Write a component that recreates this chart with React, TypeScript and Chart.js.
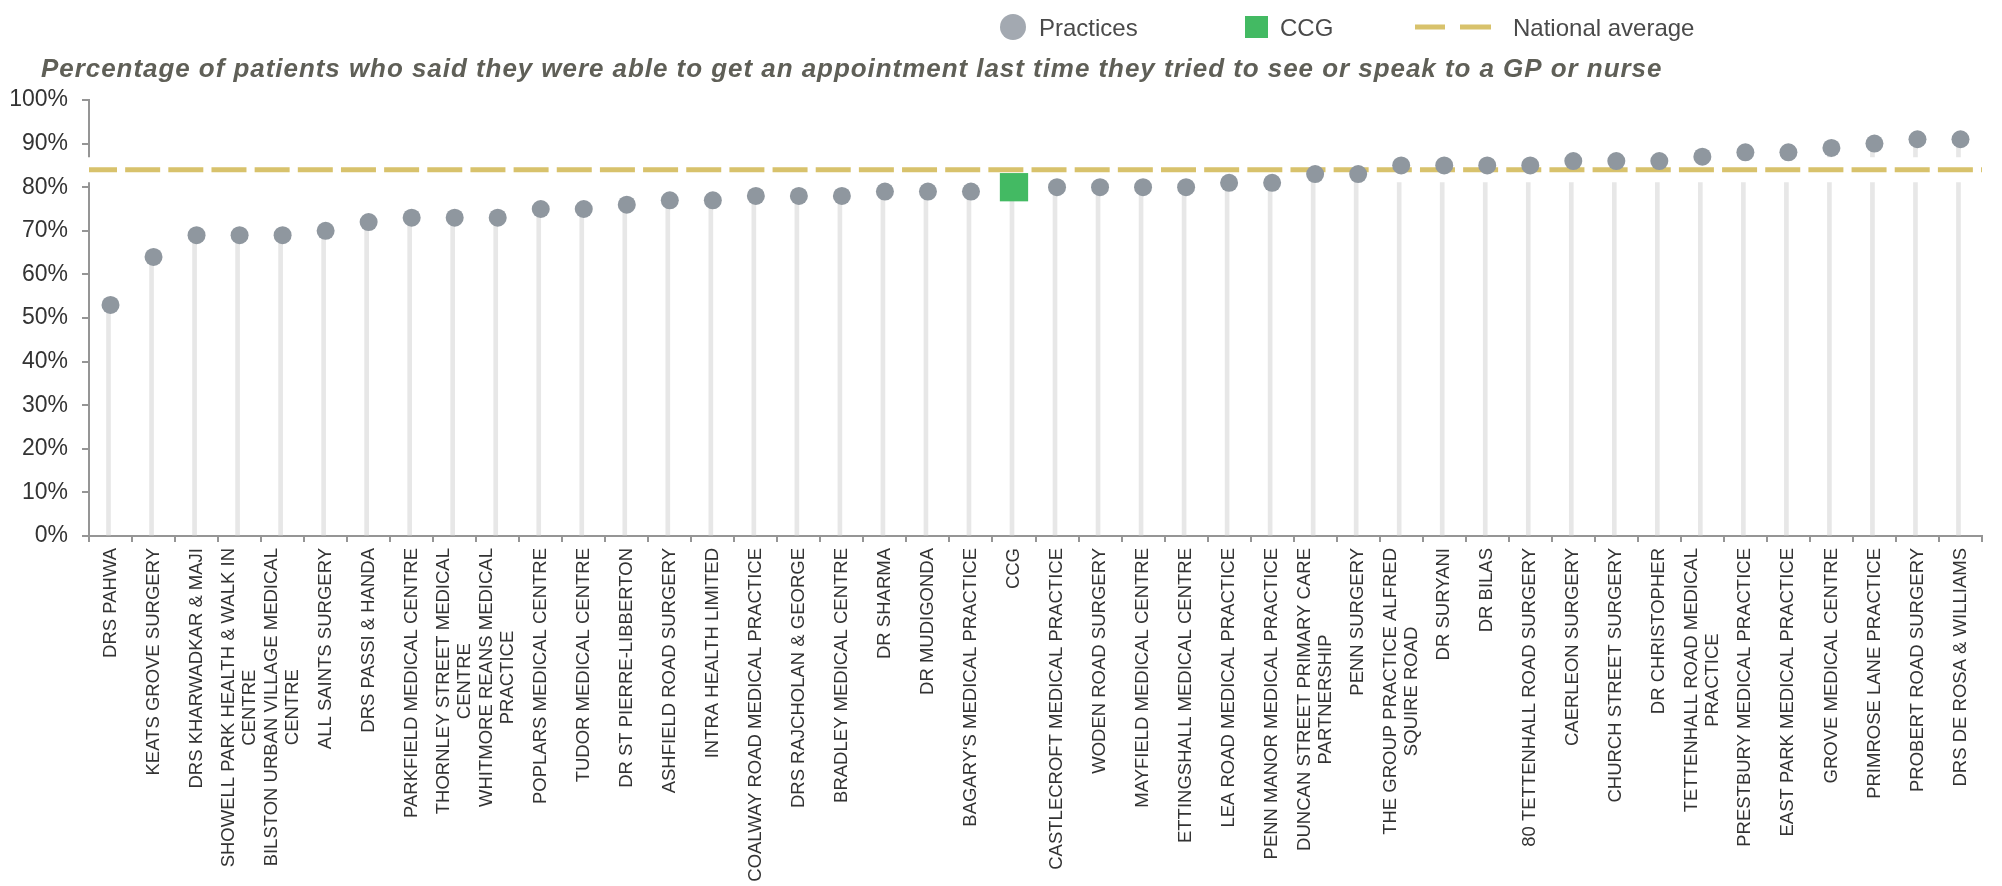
import React, { useEffect, useRef } from 'react';
import { Chart, registerables } from 'chart.js';

Chart.register(...registerables);

const FONT = '"Liberation Sans", Arial, sans-serif';

const titleText =
  'Percentage of patients who said they were able to get an appointment last time they tried to see or speak to a GP or nurse';

const categories: (string | string[])[] = [
  'DRS PAHWA',
  'KEATS GROVE SURGERY',
  'DRS KHARWADKAR & MAJI',
  ['SHOWELL PARK HEALTH & WALK IN', 'CENTRE'],
  ['BILSTON URBAN VILLAGE MEDICAL', 'CENTRE'],
  'ALL SAINTS SURGERY',
  'DRS PASSI & HANDA',
  'PARKFIELD MEDICAL CENTRE',
  ['THORNLEY STREET MEDICAL', 'CENTRE'],
  ['WHITMORE REANS MEDICAL', 'PRACTICE'],
  'POPLARS MEDICAL CENTRE',
  'TUDOR MEDICAL CENTRE',
  'DR ST PIERRE-LIBBERTON',
  'ASHFIELD ROAD SURGERY',
  'INTRA HEALTH LIMITED',
  'COALWAY ROAD MEDICAL PRACTICE',
  'DRS RAJCHOLAN & GEORGE',
  'BRADLEY MEDICAL CENTRE',
  'DR SHARMA',
  'DR MUDIGONDA',
  "BAGARY'S MEDICAL PRACTICE",
  'CCG',
  'CASTLECROFT MEDICAL PRACTICE',
  'WODEN ROAD SURGERY',
  'MAYFIELD MEDICAL CENTRE',
  'ETTINGSHALL MEDICAL CENTRE',
  'LEA ROAD MEDICAL PRACTICE',
  'PENN MANOR MEDICAL PRACTICE',
  ['DUNCAN STREET PRIMARY CARE', 'PARTNERSHIP'],
  'PENN SURGERY',
  ['THE GROUP PRACTICE ALFRED', 'SQUIRE ROAD'],
  'DR SURYANI',
  'DR BILAS',
  '80 TETTENHALL ROAD SURGERY',
  'CAERLEON SURGERY',
  'CHURCH STREET SURGERY',
  'DR CHRISTOPHER',
  ['TETTENHALL ROAD MEDICAL', 'PRACTICE'],
  'PRESTBURY MEDICAL PRACTICE',
  'EAST PARK MEDICAL PRACTICE',
  'GROVE MEDICAL CENTRE',
  'PRIMROSE LANE PRACTICE',
  'PROBERT ROAD SURGERY',
  'DRS DE ROSA & WILLIAMS',
];

const values: number[] = [
  53, 64, 69, 69, 69, 70, 72, 73, 73, 73, 75, 75, 76, 77, 77, 78, 78, 78, 79, 79, 79, 80, 80, 80,
  80, 80, 81, 81, 83, 83, 85, 85, 85, 85, 86, 86, 86, 87, 88, 88, 89, 90, 91, 91,
];

const ccgLabel = 'CCG';
const nationalAverage = 84;
const yTickMin = 0;
const yTickMax = 100;
const yTickStep = 10;

const legendLabels = ['Practices', 'CCG', 'National average'];

const COLOR_POINT = '#8f979f';
const COLOR_LEGEND_POINT = '#a3a9b1';
const COLOR_CCG = '#43ba63';
const COLOR_GOLD = '#d8c26c';
const COLOR_STEM = '#e7e7e7';
const COLOR_AXIS = '#959595';

const isCcg = (c: string | string[]) => (Array.isArray(c) ? c.join(' ') : c) === ccgLabel;

const practiceSeries = values.map((v, i) => (isCcg(categories[i]) ? null : v));
const ccgSeries = values.map((v, i) => (isCcg(categories[i]) ? v : null));

const xLabelPlugin = {
  id: 'xLabelPlugin',
  afterDraw(chart: any) {
    const scale = chart.scales.x;
    const ctx: CanvasRenderingContext2D = chart.ctx;
    const lineH = 21;
    ctx.save();
    ctx.font = `18.5px ${FONT}`;
    ctx.fillStyle = '#333333';
    ctx.textBaseline = 'middle';
    ctx.textAlign = 'center';
    const top = scale.top + 12;
    (chart.data.labels as (string | string[])[]).forEach((lab, i) => {
      const lines = Array.isArray(lab) ? lab : [lab];
      const x = scale.getPixelForTick(i);
      const w = Math.max(...lines.map((l) => ctx.measureText(l).width));
      lines.forEach((line, k) => {
        ctx.save();
        ctx.translate(x + (k - (lines.length - 1) / 2) * lineH, top);
        ctx.rotate(-Math.PI / 2);
        ctx.fillText(line, -w / 2, 0);
        ctx.restore();
      });
    });
    ctx.restore();
  },
};

const titlePlugin = {
  id: 'titlePlugin',
  afterDraw(chart: any) {
    const ctx: any = chart.ctx;
    ctx.save();
    ctx.font = `italic bold 26px ${FONT}`;
    ctx.letterSpacing = '0.95px';
    ctx.fillStyle = '#5f5f57';
    ctx.textBaseline = 'alphabetic';
    ctx.textAlign = 'left';
    ctx.fillText(titleText, 41, 77);
    ctx.restore();
  },
};

const legendPlugin = {
  id: 'legendPlugin',
  afterDraw(chart: any) {
    const ctx: CanvasRenderingContext2D = chart.ctx;
    const cy = 27;
    const base = 36;
    ctx.save();
    ctx.font = `24px ${FONT}`;
    ctx.textBaseline = 'alphabetic';
    ctx.textAlign = 'left';
    // Practices
    ctx.fillStyle = COLOR_LEGEND_POINT;
    ctx.beginPath();
    ctx.arc(1013, cy, 13, 0, Math.PI * 2);
    ctx.fill();
    ctx.fillStyle = '#4a4a4a';
    ctx.fillText(legendLabels[0], 1039, base);
    // CCG
    ctx.fillStyle = COLOR_CCG;
    ctx.fillRect(1245, cy - 11, 23, 22);
    ctx.fillStyle = '#4a4a4a';
    ctx.fillText(legendLabels[1], 1280, base);
    // National average
    ctx.strokeStyle = COLOR_GOLD;
    ctx.lineWidth = 5;
    ctx.beginPath();
    ctx.moveTo(1415, cy);
    ctx.lineTo(1445, cy);
    ctx.moveTo(1460, cy);
    ctx.lineTo(1491, cy);
    ctx.stroke();
    ctx.fillStyle = '#4a4a4a';
    ctx.fillText(legendLabels[2], 1513, base);
    ctx.restore();
  },
};

export default function App() {
  const ref = useRef<HTMLCanvasElement | null>(null);

  useEffect(() => {
    if (!ref.current) return;
    const chart = new Chart(ref.current, {
      type: 'bar',
      data: {
        labels: categories as any,
        datasets: [
          {
            type: 'line',
            label: legendLabels[1],
            data: ccgSeries as any,
            showLine: false,
            pointStyle: 'rect',
            pointRadius: 20,
            pointHoverRadius: 20,
            pointBackgroundColor: COLOR_CCG,
            pointBorderWidth: 0,
            borderColor: COLOR_CCG,
            order: 0,
            xAxisID: 'x',
          },
          {
            type: 'line',
            label: legendLabels[0],
            data: practiceSeries as any,
            showLine: false,
            pointStyle: 'circle',
            pointRadius: 9,
            pointHoverRadius: 9,
            pointBackgroundColor: COLOR_POINT,
            pointBorderWidth: 0,
            borderColor: COLOR_POINT,
            order: 1,
            xAxisID: 'x',
          },
          {
            type: 'line',
            label: legendLabels[2],
            data: [
              { x: 0, y: nationalAverage },
              { x: 1, y: nationalAverage },
            ] as any,
            xAxisID: 'x2',
            borderColor: COLOR_GOLD,
            borderWidth: 5,
            borderDash: [35, 8.16],
            borderDashOffset: 7,
            borderCapStyle: 'butt',
            pointRadius: 0,
            clip: false as any,
            order: 2,
          },
          {
            type: 'line',
            label: 'band',
            data: [
              { x: 0, y: nationalAverage },
              { x: 1, y: nationalAverage },
            ] as any,
            xAxisID: 'x2',
            borderColor: '#ffffff',
            borderWidth: 25,
            borderCapStyle: 'square',
            pointRadius: 0,
            clip: false as any,
            order: 3,
          },
          {
            type: 'bar',
            label: 'stems',
            data: values,
            backgroundColor: COLOR_STEM,
            borderWidth: 0,
            barThickness: 4,
            order: 4,
            xAxisID: 'x',
          },
        ],
      },
      options: {
        animation: false,
        responsive: false,
        maintainAspectRatio: false,
        events: [],
        layout: { padding: { top: 100, left: 0, right: 14, bottom: 0 } },
        plugins: {
          legend: { display: false },
          tooltip: { enabled: false },
          title: { display: false },
        },
        scales: {
          x: {
            type: 'category',
            offset: true,
            grid: {
              display: true,
              offset: true,
              drawOnChartArea: false,
              drawTicks: true,
              tickLength: 6,
              color: COLOR_AXIS,
              lineWidth: 2,
            },
            border: { display: true, color: COLOR_AXIS, width: 2 },
            ticks: { display: false },
            afterFit: (scale: any) => {
              scale.height = 350;
            },
          },
          x2: {
            type: 'linear',
            display: false,
            offset: false,
            min: 0,
            max: 1,
          },
          y: {
            min: yTickMin,
            max: yTickMax,
            grid: {
              display: true,
              drawOnChartArea: false,
              drawTicks: true,
              tickLength: 7,
              color: COLOR_AXIS,
              lineWidth: 2,
            },
            border: { display: true, color: COLOR_AXIS, width: 2 },
            ticks: {
              stepSize: yTickStep,
              padding: 14,
              color: '#333333',
              font: { family: FONT, size: 23 },
              callback: (v: any) => `${v}%`,
            },
            afterFit: (scale: any) => {
              scale.width = 89;
            },
          },
        },
      },
      plugins: [xLabelPlugin, titlePlugin, legendPlugin],
    });
    return () => chart.destroy();
  }, []);

  return (
    <div style={{ position: 'absolute', left: 0, top: 0, width: 2002, height: 886 }}>
      <canvas ref={ref} width={2002} height={886} style={{ display: 'block', width: 2002, height: 886 }} />
    </div>
  );
}
